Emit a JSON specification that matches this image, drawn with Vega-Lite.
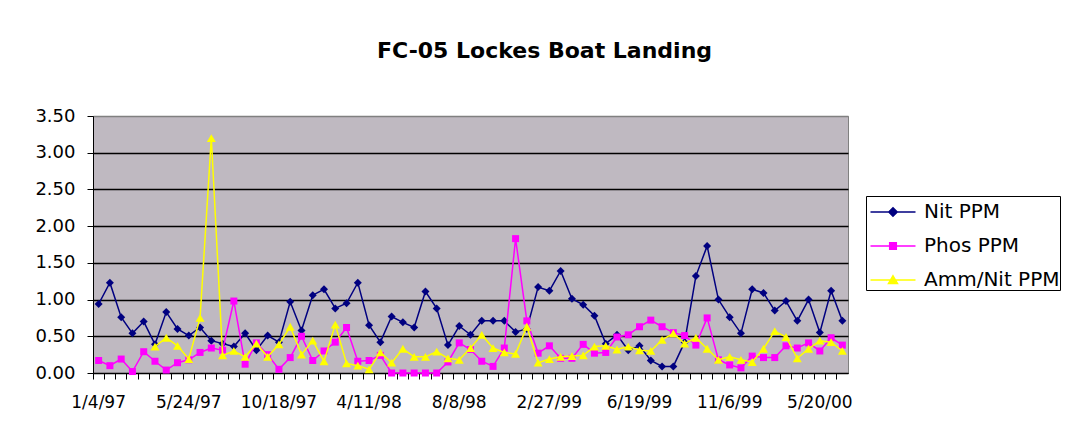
{
  "$schema": "https://vega.github.io/schema/vega-lite/v6.json",
  "width": 755,
  "height": 257,
  "autosize": "none",
  "padding": {"left": 93, "top": 116, "right": 222, "bottom": 65},
  "background": "white",
  "config": {
    "font": "DejaVu Sans",
    "view": {"fill": "#bfb9c1", "stroke": "#808080", "strokeWidth": 1}
  },
  "title": {
    "text": "FC-05 Lockes Boat Landing",
    "font": "DejaVu Sans",
    "fontSize": 22,
    "fontWeight": "bold",
    "color": "black",
    "anchor": "middle",
    "frame": "group",
    "dx": 74,
    "baseline": "alphabetic",
    "offset": 27
  },
  "data": {
    "values": [
      {"i": 0, "series": "Nit PPM", "value": 0.94}, {"i": 1, "series": "Nit PPM", "value": 1.23}, {"i": 2, "series": "Nit PPM", "value": 0.76}, {"i": 3, "series": "Nit PPM", "value": 0.54}, {"i": 4, "series": "Nit PPM", "value": 0.70},
      {"i": 5, "series": "Nit PPM", "value": 0.39}, {"i": 6, "series": "Nit PPM", "value": 0.83}, {"i": 7, "series": "Nit PPM", "value": 0.60}, {"i": 8, "series": "Nit PPM", "value": 0.51}, {"i": 9, "series": "Nit PPM", "value": 0.62},
      {"i": 10, "series": "Nit PPM", "value": 0.44}, {"i": 11, "series": "Nit PPM", "value": 0.40}, {"i": 12, "series": "Nit PPM", "value": 0.36}, {"i": 13, "series": "Nit PPM", "value": 0.54}, {"i": 14, "series": "Nit PPM", "value": 0.31},
      {"i": 15, "series": "Nit PPM", "value": 0.51}, {"i": 16, "series": "Nit PPM", "value": 0.42}, {"i": 17, "series": "Nit PPM", "value": 0.97}, {"i": 18, "series": "Nit PPM", "value": 0.58}, {"i": 19, "series": "Nit PPM", "value": 1.06},
      {"i": 20, "series": "Nit PPM", "value": 1.14}, {"i": 21, "series": "Nit PPM", "value": 0.88}, {"i": 22, "series": "Nit PPM", "value": 0.95}, {"i": 23, "series": "Nit PPM", "value": 1.23}, {"i": 24, "series": "Nit PPM", "value": 0.65},
      {"i": 25, "series": "Nit PPM", "value": 0.42}, {"i": 26, "series": "Nit PPM", "value": 0.77}, {"i": 27, "series": "Nit PPM", "value": 0.69}, {"i": 28, "series": "Nit PPM", "value": 0.62}, {"i": 29, "series": "Nit PPM", "value": 1.11},
      {"i": 30, "series": "Nit PPM", "value": 0.88}, {"i": 31, "series": "Nit PPM", "value": 0.38}, {"i": 32, "series": "Nit PPM", "value": 0.64}, {"i": 33, "series": "Nit PPM", "value": 0.52}, {"i": 34, "series": "Nit PPM", "value": 0.71},
      {"i": 35, "series": "Nit PPM", "value": 0.71}, {"i": 36, "series": "Nit PPM", "value": 0.71}, {"i": 37, "series": "Nit PPM", "value": 0.56}, {"i": 38, "series": "Nit PPM", "value": 0.60}, {"i": 39, "series": "Nit PPM", "value": 1.17},
      {"i": 40, "series": "Nit PPM", "value": 1.12}, {"i": 41, "series": "Nit PPM", "value": 1.39}, {"i": 42, "series": "Nit PPM", "value": 1.01}, {"i": 43, "series": "Nit PPM", "value": 0.93}, {"i": 44, "series": "Nit PPM", "value": 0.78},
      {"i": 45, "series": "Nit PPM", "value": 0.40}, {"i": 46, "series": "Nit PPM", "value": 0.52}, {"i": 47, "series": "Nit PPM", "value": 0.31}, {"i": 48, "series": "Nit PPM", "value": 0.37}, {"i": 49, "series": "Nit PPM", "value": 0.17},
      {"i": 50, "series": "Nit PPM", "value": 0.09}, {"i": 51, "series": "Nit PPM", "value": 0.09}, {"i": 52, "series": "Nit PPM", "value": 0.42}, {"i": 53, "series": "Nit PPM", "value": 1.32}, {"i": 54, "series": "Nit PPM", "value": 1.73},
      {"i": 55, "series": "Nit PPM", "value": 1.00}, {"i": 56, "series": "Nit PPM", "value": 0.76}, {"i": 57, "series": "Nit PPM", "value": 0.54}, {"i": 58, "series": "Nit PPM", "value": 1.14}, {"i": 59, "series": "Nit PPM", "value": 1.09},
      {"i": 60, "series": "Nit PPM", "value": 0.85}, {"i": 61, "series": "Nit PPM", "value": 0.98}, {"i": 62, "series": "Nit PPM", "value": 0.71}, {"i": 63, "series": "Nit PPM", "value": 1.00}, {"i": 64, "series": "Nit PPM", "value": 0.55},
      {"i": 65, "series": "Nit PPM", "value": 1.12}, {"i": 66, "series": "Nit PPM", "value": 0.71},

      {"i": 0, "series": "Phos PPM", "value": 0.17}, {"i": 1, "series": "Phos PPM", "value": 0.10}, {"i": 2, "series": "Phos PPM", "value": 0.19}, {"i": 3, "series": "Phos PPM", "value": 0.02}, {"i": 4, "series": "Phos PPM", "value": 0.29},
      {"i": 5, "series": "Phos PPM", "value": 0.16}, {"i": 6, "series": "Phos PPM", "value": 0.04}, {"i": 7, "series": "Phos PPM", "value": 0.14}, {"i": 8, "series": "Phos PPM", "value": 0.18}, {"i": 9, "series": "Phos PPM", "value": 0.28},
      {"i": 10, "series": "Phos PPM", "value": 0.34}, {"i": 11, "series": "Phos PPM", "value": 0.31}, {"i": 12, "series": "Phos PPM", "value": 0.98}, {"i": 13, "series": "Phos PPM", "value": 0.12}, {"i": 14, "series": "Phos PPM", "value": 0.41},
      {"i": 15, "series": "Phos PPM", "value": 0.25}, {"i": 16, "series": "Phos PPM", "value": 0.05}, {"i": 17, "series": "Phos PPM", "value": 0.21}, {"i": 18, "series": "Phos PPM", "value": 0.50}, {"i": 19, "series": "Phos PPM", "value": 0.17},
      {"i": 20, "series": "Phos PPM", "value": 0.30}, {"i": 21, "series": "Phos PPM", "value": 0.42}, {"i": 22, "series": "Phos PPM", "value": 0.62}, {"i": 23, "series": "Phos PPM", "value": 0.16}, {"i": 24, "series": "Phos PPM", "value": 0.17},
      {"i": 25, "series": "Phos PPM", "value": 0.24}, {"i": 26, "series": "Phos PPM", "value": 0.0}, {"i": 27, "series": "Phos PPM", "value": 0.0}, {"i": 28, "series": "Phos PPM", "value": 0.0}, {"i": 29, "series": "Phos PPM", "value": 0.0},
      {"i": 30, "series": "Phos PPM", "value": 0.0}, {"i": 31, "series": "Phos PPM", "value": 0.15}, {"i": 32, "series": "Phos PPM", "value": 0.41}, {"i": 33, "series": "Phos PPM", "value": 0.32}, {"i": 34, "series": "Phos PPM", "value": 0.16},
      {"i": 35, "series": "Phos PPM", "value": 0.09}, {"i": 36, "series": "Phos PPM", "value": 0.34}, {"i": 37, "series": "Phos PPM", "value": 1.83}, {"i": 38, "series": "Phos PPM", "value": 0.71}, {"i": 39, "series": "Phos PPM", "value": 0.27},
      {"i": 40, "series": "Phos PPM", "value": 0.37}, {"i": 41, "series": "Phos PPM", "value": 0.20}, {"i": 42, "series": "Phos PPM", "value": 0.20}, {"i": 43, "series": "Phos PPM", "value": 0.39}, {"i": 44, "series": "Phos PPM", "value": 0.27},
      {"i": 45, "series": "Phos PPM", "value": 0.28}, {"i": 46, "series": "Phos PPM", "value": 0.49}, {"i": 47, "series": "Phos PPM", "value": 0.52}, {"i": 48, "series": "Phos PPM", "value": 0.63}, {"i": 49, "series": "Phos PPM", "value": 0.72},
      {"i": 50, "series": "Phos PPM", "value": 0.63}, {"i": 51, "series": "Phos PPM", "value": 0.55}, {"i": 52, "series": "Phos PPM", "value": 0.51}, {"i": 53, "series": "Phos PPM", "value": 0.38}, {"i": 54, "series": "Phos PPM", "value": 0.75},
      {"i": 55, "series": "Phos PPM", "value": 0.18}, {"i": 56, "series": "Phos PPM", "value": 0.11}, {"i": 57, "series": "Phos PPM", "value": 0.07}, {"i": 58, "series": "Phos PPM", "value": 0.23}, {"i": 59, "series": "Phos PPM", "value": 0.21},
      {"i": 60, "series": "Phos PPM", "value": 0.21}, {"i": 61, "series": "Phos PPM", "value": 0.37}, {"i": 62, "series": "Phos PPM", "value": 0.34}, {"i": 63, "series": "Phos PPM", "value": 0.41}, {"i": 64, "series": "Phos PPM", "value": 0.30},
      {"i": 65, "series": "Phos PPM", "value": 0.48}, {"i": 66, "series": "Phos PPM", "value": 0.38},

      {"i": 5, "series": "Amm/Nit PPM", "value": 0.36}, {"i": 6, "series": "Amm/Nit PPM", "value": 0.48}, {"i": 7, "series": "Amm/Nit PPM", "value": 0.37}, {"i": 8, "series": "Amm/Nit PPM", "value": 0.19}, {"i": 9, "series": "Amm/Nit PPM", "value": 0.75},
      {"i": 10, "series": "Amm/Nit PPM", "value": 3.2}, {"i": 11, "series": "Amm/Nit PPM", "value": 0.24}, {"i": 12, "series": "Amm/Nit PPM", "value": 0.30}, {"i": 13, "series": "Amm/Nit PPM", "value": 0.22}, {"i": 14, "series": "Amm/Nit PPM", "value": 0.40},
      {"i": 15, "series": "Amm/Nit PPM", "value": 0.22}, {"i": 16, "series": "Amm/Nit PPM", "value": 0.39}, {"i": 17, "series": "Amm/Nit PPM", "value": 0.63}, {"i": 18, "series": "Amm/Nit PPM", "value": 0.25}, {"i": 19, "series": "Amm/Nit PPM", "value": 0.44},
      {"i": 20, "series": "Amm/Nit PPM", "value": 0.16}, {"i": 21, "series": "Amm/Nit PPM", "value": 0.66}, {"i": 22, "series": "Amm/Nit PPM", "value": 0.13}, {"i": 23, "series": "Amm/Nit PPM", "value": 0.10}, {"i": 24, "series": "Amm/Nit PPM", "value": 0.05},
      {"i": 25, "series": "Amm/Nit PPM", "value": 0.28}, {"i": 26, "series": "Amm/Nit PPM", "value": 0.14}, {"i": 27, "series": "Amm/Nit PPM", "value": 0.33}, {"i": 28, "series": "Amm/Nit PPM", "value": 0.22}, {"i": 29, "series": "Amm/Nit PPM", "value": 0.22},
      {"i": 30, "series": "Amm/Nit PPM", "value": 0.29}, {"i": 31, "series": "Amm/Nit PPM", "value": 0.20}, {"i": 32, "series": "Amm/Nit PPM", "value": 0.18}, {"i": 33, "series": "Amm/Nit PPM", "value": 0.34}, {"i": 34, "series": "Amm/Nit PPM", "value": 0.52},
      {"i": 35, "series": "Amm/Nit PPM", "value": 0.34}, {"i": 36, "series": "Amm/Nit PPM", "value": 0.28}, {"i": 37, "series": "Amm/Nit PPM", "value": 0.26}, {"i": 38, "series": "Amm/Nit PPM", "value": 0.63}, {"i": 39, "series": "Amm/Nit PPM", "value": 0.14},
      {"i": 40, "series": "Amm/Nit PPM", "value": 0.19}, {"i": 41, "series": "Amm/Nit PPM", "value": 0.22}, {"i": 42, "series": "Amm/Nit PPM", "value": 0.23}, {"i": 43, "series": "Amm/Nit PPM", "value": 0.24}, {"i": 44, "series": "Amm/Nit PPM", "value": 0.36},
      {"i": 45, "series": "Amm/Nit PPM", "value": 0.37}, {"i": 46, "series": "Amm/Nit PPM", "value": 0.32}, {"i": 47, "series": "Amm/Nit PPM", "value": 0.36}, {"i": 48, "series": "Amm/Nit PPM", "value": 0.31}, {"i": 49, "series": "Amm/Nit PPM", "value": 0.30},
      {"i": 50, "series": "Amm/Nit PPM", "value": 0.45}, {"i": 51, "series": "Amm/Nit PPM", "value": 0.54}, {"i": 52, "series": "Amm/Nit PPM", "value": 0.40}, {"i": 53, "series": "Amm/Nit PPM", "value": 0.48}, {"i": 54, "series": "Amm/Nit PPM", "value": 0.33},
      {"i": 55, "series": "Amm/Nit PPM", "value": 0.18}, {"i": 56, "series": "Amm/Nit PPM", "value": 0.22}, {"i": 57, "series": "Amm/Nit PPM", "value": 0.18}, {"i": 58, "series": "Amm/Nit PPM", "value": 0.15}, {"i": 59, "series": "Amm/Nit PPM", "value": 0.33},
      {"i": 60, "series": "Amm/Nit PPM", "value": 0.57}, {"i": 61, "series": "Amm/Nit PPM", "value": 0.49}, {"i": 62, "series": "Amm/Nit PPM", "value": 0.20}, {"i": 63, "series": "Amm/Nit PPM", "value": 0.33}, {"i": 64, "series": "Amm/Nit PPM", "value": 0.44},
      {"i": 65, "series": "Amm/Nit PPM", "value": 0.42}, {"i": 66, "series": "Amm/Nit PPM", "value": 0.30}
    ]
  },
  "encoding": {
    "x": {
      "field": "i",
      "type": "ordinal",
      "title": null,
      "scale": {"type": "band", "paddingInner": 0, "paddingOuter": 0},
      "axis": {
        "bandPosition": 0,
        "labelDx": 5.6,
        "labelAngle": 0,
        "labelAlign": "center",
        "labelBaseline": "top",
        "labelOverlap": false,
        "labelBound": false,
        "labelPadding": 15,
        "labelFont": "DejaVu Sans",
        "labelFontSize": 17,
        "labelColor": "black",
        "labelExpr": "datum.value % 8 === 0 ? ['1/4/97','5/24/97','10/18/97','4/11/98','8/8/98','2/27/99','6/19/99','11/6/99','5/20/00'][datum.value / 8] : ''",
        "tickSize": 6,
        "tickColor": "black",
        "tickWidth": 1,
        "domainColor": "black",
        "domainWidth": 1,
        "grid": false
      }
    },
    "y": {
      "field": "value",
      "type": "quantitative",
      "title": null,
      "scale": {"domain": [0, 3.5], "nice": false, "zero": true},
      "axis": {
        "values": [0, 0.5, 1, 1.5, 2, 2.5, 3, 3.5],
        "format": ".2f",
        "labelFont": "DejaVu Sans",
        "labelFontSize": 18,
        "labelColor": "black",
        "labelPadding": 12,
        "tickSize": 6,
        "tickColor": "black",
        "domainColor": "black",
        "grid": true,
        "gridColor": {"condition": {"test": "datum.value >= 3.5", "value": "#808080"}, "value": "black"},
        "gridWidth": 1.5
      }
    }
  },
  "layer": [
    {
      "mark": {"type": "point", "filled": true, "opacity": 0},
      "encoding": {
        "fill": {
          "field": "series", "type": "nominal",
          "scale": {"domain": ["Nit PPM", "Phos PPM", "Amm/Nit PPM"], "range": ["#000080", "#ff00ff", "#ffff00"]},
          "legend": {
            "orient": "none", "legendX": 773, "legendY": 80, "title": null,
            "fillColor": "white", "strokeColor": "black", "padding": 0,
            "symbolSize": 900, "symbolOffset": 11, "labelOffset": 15, "rowPadding": 8,
            "symbolStrokeWidth": 1.5, "symbolOpacity": 1,
            "labelFont": "DejaVu Sans", "labelFontSize": 20, "labelColor": "black"
          }
        },
        "stroke": {
          "field": "series", "type": "nominal",
          "scale": {"domain": ["Nit PPM", "Phos PPM", "Amm/Nit PPM"], "range": ["#000080", "#ff00ff", "#ffff00"]},
          "legend": {
            "orient": "none", "legendX": 773, "legendY": 80, "title": null,
            "fillColor": "white", "strokeColor": "black", "padding": 0,
            "symbolSize": 900, "symbolOffset": 11, "labelOffset": 15, "rowPadding": 8,
            "symbolStrokeWidth": 1.5, "symbolOpacity": 1,
            "labelFont": "DejaVu Sans", "labelFontSize": 20, "labelColor": "black"
          }
        },
        "shape": {
          "field": "series", "type": "nominal",
          "scale": {"domain": ["Nit PPM", "Phos PPM", "Amm/Nit PPM"], "range": [
            "M-1.5,0L1.5,0M0,-0.28L0.28,0L0,0.28L-0.28,0Z",
            "M-1.5,0L1.5,0M-0.22,-0.22L0.22,-0.22L0.22,0.22L-0.22,0.22Z",
            "M-1.5,0L1.5,0M0,-0.28L0.3,0.24L-0.3,0.24Z"
          ]},
          "legend": {
            "orient": "none", "legendX": 773, "legendY": 80, "title": null,
            "fillColor": "white", "strokeColor": "black", "padding": 0,
            "symbolSize": 900, "symbolOffset": 11, "labelOffset": 15, "rowPadding": 8,
            "symbolStrokeWidth": 1.5, "symbolOpacity": 1,
            "labelFont": "DejaVu Sans", "labelFontSize": 20, "labelColor": "black"
          }
        }
      }
    },
    {"transform": [{"filter": "datum.series === 'Nit PPM'"}], "mark": {"type": "line", "strokeWidth": 1.5, "color": "#000080"}},
    {"transform": [{"filter": "datum.series === 'Nit PPM'"}], "mark": {"type": "point", "shape": "diamond", "size": 64, "filled": true, "opacity": 1, "color": "#000080"}},
    {"transform": [{"filter": "datum.series === 'Phos PPM'"}], "mark": {"type": "line", "strokeWidth": 1.5, "color": "#ff00ff"}},
    {"transform": [{"filter": "datum.series === 'Phos PPM'"}], "mark": {"type": "point", "shape": "square", "size": 49, "filled": true, "opacity": 1, "color": "#ff00ff"}},
    {"transform": [{"filter": "datum.series === 'Amm/Nit PPM'"}], "mark": {"type": "line", "strokeWidth": 1.5, "color": "#ffff00"}},
    {"transform": [{"filter": "datum.series === 'Amm/Nit PPM'"}], "mark": {"type": "point", "shape": "triangle-up", "size": 81, "filled": true, "opacity": 1, "color": "#ffff00"}}
  ]
}
